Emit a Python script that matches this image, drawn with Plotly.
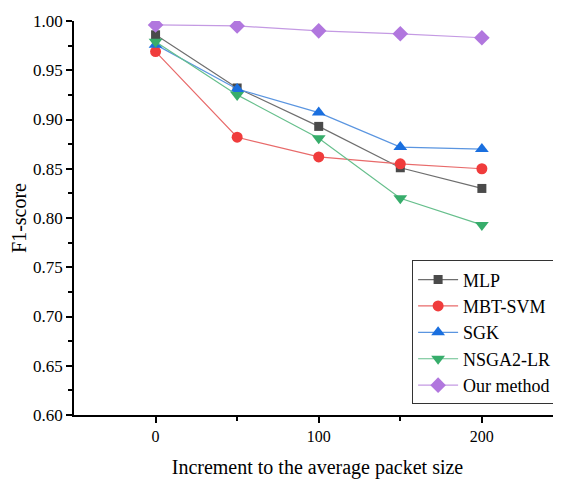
import plotly.graph_objects as go

x_vals = [0, 50, 100, 150, 200]
mlp = [0.986, 0.932, 0.893, 0.851, 0.830]
mbt_svm = [0.969, 0.882, 0.862, 0.855, 0.850]
sgk = [0.976, 0.931, 0.907, 0.872, 0.870]
nsga2_lr = [0.979, 0.925, 0.881, 0.820, 0.793]
our_method = [0.996, 0.995, 0.990, 0.987, 0.983]

series = [
    ("MLP", mlp, "square", 9, "#4a4a4a", "#6e6e6e"),
    ("MBT-SVM", mbt_svm, "circle", 11, "#f03c3c", "#e86a6a"),
    ("SGK", sgk, "triangle-up", 12, "#1a6fdf", "#5a95e0"),
    ("NSGA2-LR", nsga2_lr, "triangle-down", 12, "#37ad6b", "#66bf8c"),
    ("Our method", our_method, "diamond", 12, "#b177de", "#c49ae3"),
]

fig = go.Figure()
for name, vals, sym, sz, mcol, lcol in series:
    fig.add_trace(go.Scatter(
        x=x_vals, y=vals, name=name, mode="lines+markers",
        line=dict(color=lcol, width=1.2),
        marker=dict(symbol=sym, size=sz, color=mcol, line=dict(width=0)),
    ))

font_family = "Liberation Serif"
fig.update_layout(
    width=553, height=471,
    margin=dict(l=66, r=0, t=13, b=63.5),
    paper_bgcolor="white", plot_bgcolor="white",
    font=dict(family=font_family, color="black", size=16),
    showlegend=True,
    legend=dict(
        x=0.992, y=0.027, xanchor="right", yanchor="bottom",
        bordercolor="#333333", borderwidth=1, bgcolor="white",
        font=dict(family=font_family, size=18, color="black"),
        tracegroupgap=0, itemwidth=40,
    ),
    xaxis=dict(
        range=[-50, 248.5], tickvals=[0, 100, 200],
        showgrid=False, zeroline=False,
        showline=True, linecolor="black", linewidth=1.5,
        ticks="outside", ticklen=6, tickwidth=1.5, tickcolor="black",
        minor=dict(tickvals=[50, 150], ticks="outside", ticklen=4, tickwidth=1.5, tickcolor="black"),
        tickfont=dict(family=font_family, size=16, color="black"),
        title=dict(text="Increment to the average packet size",
                   font=dict(family=font_family, size=20, color="black"), standoff=16),
    ),
    yaxis=dict(
        range=[0.6, 1.0], dtick=0.05, tickformat=".2f",
        showgrid=False, zeroline=False,
        showline=True, linecolor="black", linewidth=1.5,
        ticks="outside", ticklen=6, tickwidth=1.5, tickcolor="black",
        minor=dict(dtick=0.025, ticks="outside", ticklen=4, tickwidth=1.5, tickcolor="black"),
        tickfont=dict(family=font_family, size=17, color="black"),
        title=dict(text="F1-score",
                   font=dict(family=font_family, size=20, color="black"), standoff=3),
    ),
)

fig.write_html("out.html")
